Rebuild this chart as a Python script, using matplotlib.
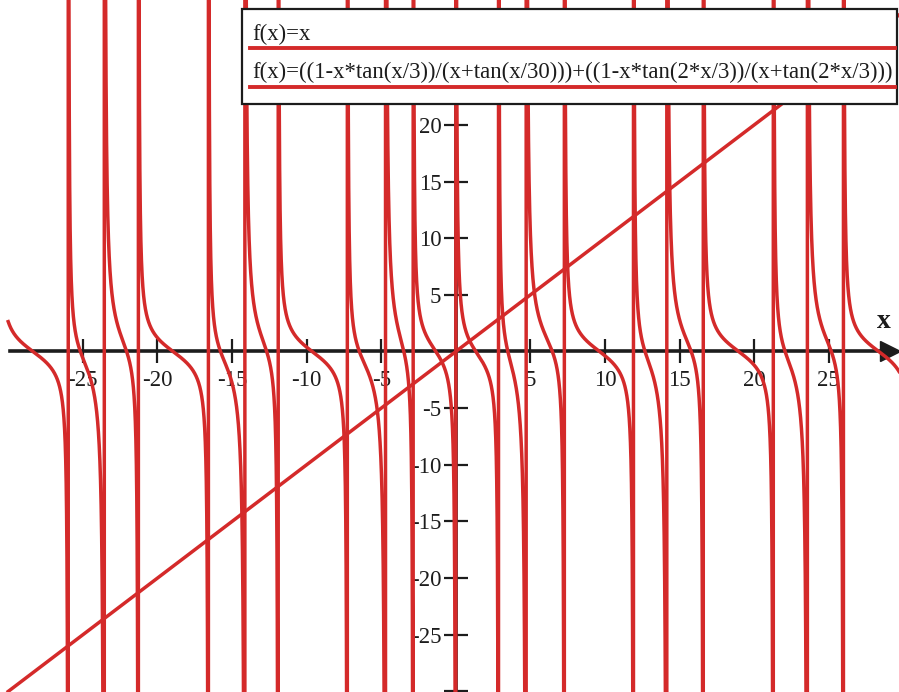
import numpy as np
import matplotlib.pyplot as plt
from matplotlib.patches import Rectangle
from matplotlib.lines import Line2D

# textos de la leyenda (tal como aparecen en la grafica)
LEG_RECTA = "f(x)=x"
LEG_CURVA = "f(x)=((1-x*tan(x/3))/(x+tan(x/30)))+((1-x*tan(2*x/3))/(x+tan(2*x/3)))"

# dominio y marcas de los ejes
X_MIN, X_MAX = -30, 30
X_TICKS = [-25, -20, -15, -10, -5, 5, 10, 15, 20, 25]
Y_TICKS = [-30, -25, -20, -15, -10, -5, 5, 10, 15, 20]
Y_LABELS = ["", "-25", "-20", "-15", "-10", "-5", "5", "10", "15", "20"]

ROJO = "#d42a2a"
NEGRO = "#1c1c1c"
W, H = 899, 692


def f(x):
    # la funcion que dice la leyenda
    return ((1 - x*np.tan(x/3)) / (x + np.tan(x/30))
            + (1 - x*np.tan(2*x/3)) / (x + np.tan(2*x/3)))


def px(x, y):
    # pixeles (origen arriba-izquierda) -> fraccion de figura
    return x / W, 1 - y / H


xs = np.linspace(X_MIN, X_MAX, 24000)  # numero par: no cae en x=0
with np.errstate(divide="ignore", invalid="ignore"):
    ys = f(xs)

plt.rcParams["font.family"] = ["Liberation Serif", "DejaVu Serif"]

fig = plt.figure(figsize=(W/100, H/100), dpi=100)
ax = fig.add_axes([0, 0, 1, 1])
ax.set_xlim(-30.55, 29.7)
ax.set_ylim(-30.05, 31.02)

ax.plot(xs, xs, color=ROJO, lw=2.5, zorder=3)
ax.plot(xs, ys, color=ROJO, lw=2.5, zorder=3)

# ejes cruzando en el origen, estilo Maple
for s in ["top", "right"]:
    ax.spines[s].set_visible(False)
ax.spines["left"].set_position(("data", 0))
ax.spines["bottom"].set_position(("data", 0))
ax.spines["left"].set_bounds(-30, 32)
ax.spines["bottom"].set_bounds(-29.9, 29.0)
for s in ["left", "bottom"]:
    ax.spines[s].set_color(NEGRO)
    ax.spines[s].set_linewidth(2.6)
    ax.spines[s].set_zorder(2)

ax.set_xticks(X_TICKS)
ax.set_xticklabels([str(t) for t in X_TICKS])
ax.set_yticks(Y_TICKS)
ax.set_yticklabels(Y_LABELS)
ax.tick_params(direction="inout", length=17, width=1.6, color=NEGRO,
               labelsize=16.5, labelcolor=NEGRO)
ax.tick_params(axis="x", pad=4.5)
ax.tick_params(axis="y", pad=2)
ax.patch.set_alpha(0)

# flecha y etiqueta del eje x
ax.plot([29.1], [0], marker=">", ms=14, color=NEGRO, clip_on=False, zorder=2)
ax.text(28.7, 1.5, "x", fontsize=20, fontweight="bold", color=NEGRO,
        ha="center", va="bottom")

# leyenda dibujada a mano (texto encima de la muestra de linea)
x0, y0 = px(242, 104)
x1, y1 = px(897, 9)
fig.patches.append(Rectangle((x0, y0), x1 - x0, y1 - y0, transform=fig.transFigure,
                             facecolor="white", edgecolor=NEGRO, lw=1.6, zorder=10))
for texto, ytxt, ylin in [(LEG_RECTA, 34, 48), (LEG_CURVA, 72, 87)]:
    tx, ty = px(252, ytxt)
    fig.text(tx, ty, texto, fontsize=16.4, color=NEGRO, ha="left", va="center",
             zorder=11)
    lx0, ly = px(250, ylin)
    lx1, _ = px(895, ylin)
    fig.lines.append(Line2D([lx0, lx1], [ly, ly], transform=fig.transFigure,
                            color=ROJO, lw=2.8, zorder=11))

fig.savefig("out.png", dpi=100)
